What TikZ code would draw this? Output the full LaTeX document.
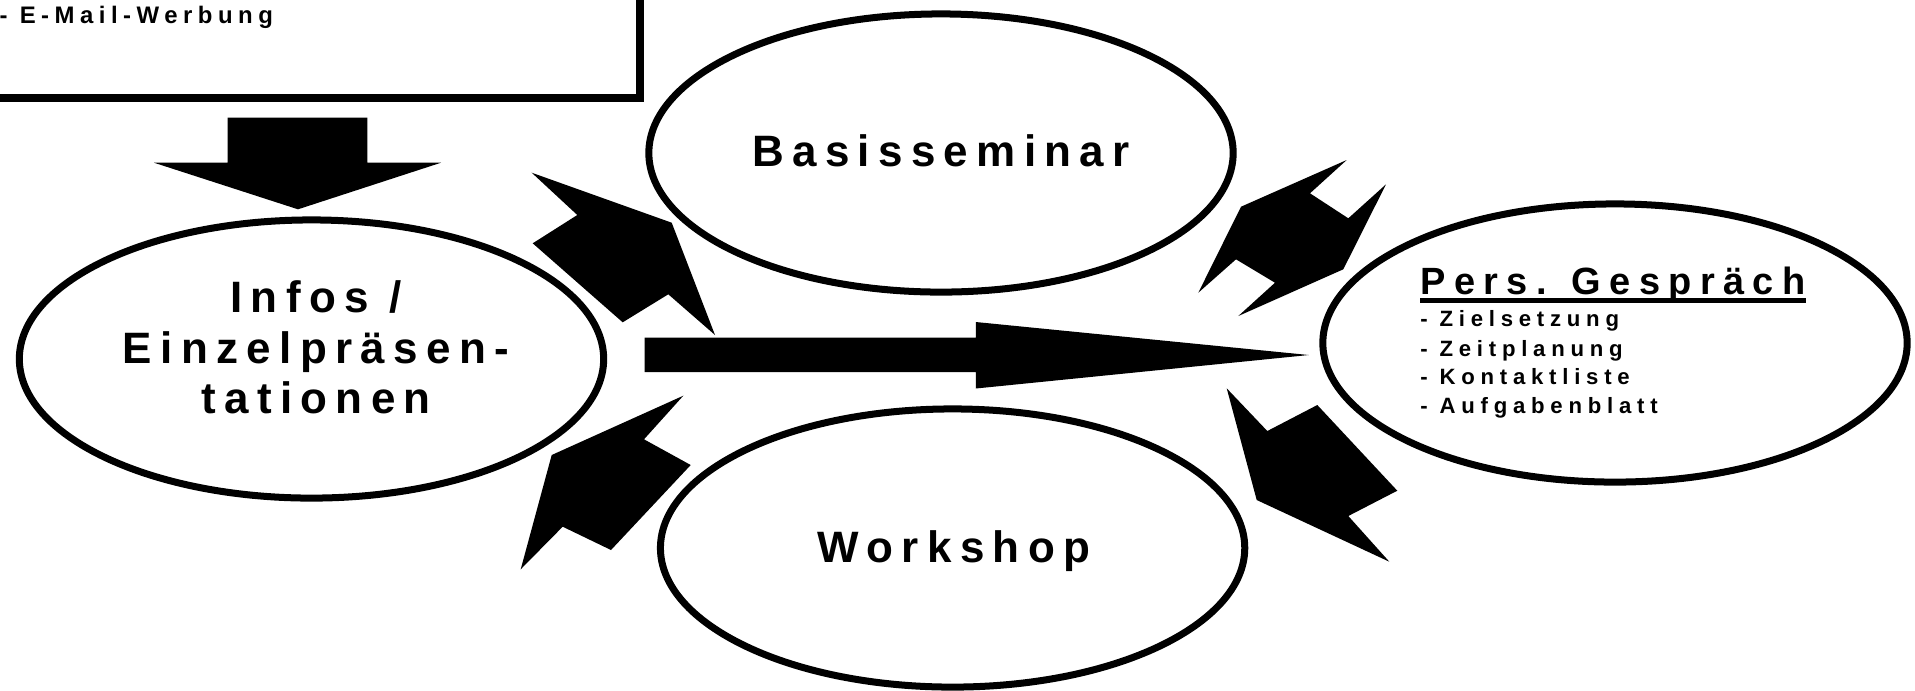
\documentclass[tikz,border=0pt]{standalone}
\usepackage{fontspec}
\setmainfont{Liberation Sans}
\newfontfamily\lsBig[LetterSpace=19]{Liberation Sans}
\newfontfamily\lsTitle[LetterSpace=22]{Liberation Sans}
\newfontfamily\lsItem[LetterSpace=26]{Liberation Sans}
\newfontfamily\lsMail[LetterSpace=23]{Liberation Sans}
\usetikzlibrary{shapes.geometric}
\newcommand\myuline[1]{\setbox0\hbox{#1}\rlap{\rule[-2.55pt]{\wd0}{1.4pt}}\box0}
\begin{document}
\begin{tikzpicture}[x=0.01cm,y=-0.01cm,
  bubble/.style={ellipse, draw, line width=0.07cm, minimum width=5.84cm, minimum height=2.78cm, inner sep=0pt},
  bigtxt/.style={anchor=base, inner sep=0pt, font={\lsBig\bfseries\fontsize{12.5pt}{14pt}\selectfont}},
  titletxt/.style={anchor=base west, inner sep=0pt, font={\lsTitle\bfseries\fontsize{10.8pt}{13pt}\selectfont}},
  itemtxt/.style={anchor=base west, inner sep=0pt, font={\lsItem\bfseries\fontsize{6.3pt}{8pt}\selectfont}},
  mailtxt/.style={anchor=base west, inner sep=0pt, font={\lsMail\bfseries\fontsize{6.8pt}{8pt}\selectfont}},
  blockarrow/.style={fill=black, draw=none}]
\useasboundingbox (0,0) rectangle (1915,690);
\clip (0,0) rectangle (1915,690);

% top box
\draw[line width=0.08cm] (-40,-40) rectangle (640,98);
\node[mailtxt] (mail) at (-1,23.3) {- E-Mail-Werbung};

% ellipses
\node[bubble] (infos) at (311.5,359) {};
\node[bubble] (basis) at (941,153) {};
\node[bubble] (work) at (952.6,548) {};
\node[bubble] (pers) at (1615,343) {};

% texts
\node[bigtxt] (infos1) at (316,312.7) {Infos /};
\node[bigtxt] (infos2) at (316,363.3) {Einzelpräsen-};
\node[bigtxt] (infos3) at (316,413) {tationen};
\node[bigtxt] (basist) at (941,166) {Basisseminar};
\node[bigtxt] (workt) at (954,562) {Workshop};
\node[titletxt] (perst) at (1419.6,294.3) {\myuline{Pers. Gespräch}};
\node[itemtxt] (it1) at (1419.6,326.7) {- Zielsetzung};
\node[itemtxt] (it2) at (1419.6,356) {- Zeitplanung};
\node[itemtxt] (it3) at (1419.6,384.3) {- Kontaktliste};
\node[itemtxt] (it4) at (1419.6,413.3) {- Aufgabenblatt};

% down arrow
\fill[blockarrow] (227.7,117.7) -- (367.4,117.7) -- (367.4,162.7) -- (441,162.7)
  -- (298,209.3) -- (154,162.7) -- (227.7,162.7) -- cycle;

% main horizontal arrow
\fill[blockarrow] (644.6,337.5) -- (975.8,337.5) -- (975.8,322) -- (1308.8,355)
  -- (975.8,388.5) -- (975.8,372) -- (644.6,372) -- cycle;

% upper-left arrow
\fill[blockarrow] (531.7,172.7) -- (671.7,222.7) -- (715,335) -- (668.3,294.3)
  -- (622.7,322.3) -- (532.7,243.3) -- (577.3,215) -- cycle;

% lower-left arrow
\fill[blockarrow] (551.7,455) -- (683.3,395.7) -- (644,439.3) -- (690.7,465)
  -- (611,550) -- (562.7,526.7) -- (520.7,569.3) -- cycle;

% upper-right arrow
\fill[blockarrow] (1241,206.7) -- (1346.7,160) -- (1310,193.3) -- (1348.3,218.3)
  -- (1386,184.3) -- (1343.3,269.3) -- (1238.3,316) -- (1275,282.7)
  -- (1236,259.3) -- (1198.3,292.7) -- cycle;

% lower-right arrow
\fill[blockarrow] (1226.7,388.3) -- (1267.3,431) -- (1317.3,405) -- (1397.3,490.7)
  -- (1348.3,516) -- (1389.3,561.7) -- (1256.7,500) -- cycle;
\end{tikzpicture}
\end{document}
